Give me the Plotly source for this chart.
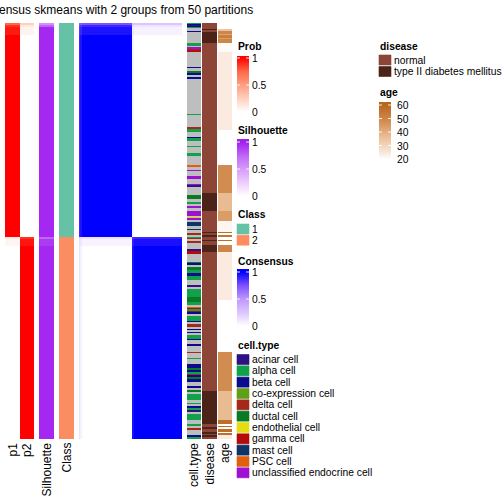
import numpy as np
import plotly.graph_objects as go

TITLE = "Consensus skmeans with 2 groups from 50 partitions"

# ---------------- data ----------------
class_labels = ["1", "2"]
class_colors = ["#66C2A5", "#FC8D62"]
class_sizes = [214, 202]

# probability of class 1 for samples (run-length: value, count)
p1_values = [0.75, 0.88, 0.94, 1.0, 0.12, 0.05, 0.0]
p1_lengths = [2, 2, 8, 202, 2, 7, 193]

sil_values = [0.55, 0.75, 0.97, 0.75, 0.9, 0.97]
sil_lengths = [2, 2, 210, 2, 7, 193]

celltype_keys = ["ac", "al", "be", "co", "de", "du", "en", "ga", "ma", "ps", "un"]
celltype_names = ["acinar cell", "alpha cell", "beta cell", "co-expression cell", "delta cell",
                  "ductal cell", "endothelial cell", "gamma cell", "mast cell", "PSC cell",
                  "unclassified endocrine cell"]
celltype_colors = ["#2E1182", "#10A14A", "#0B0B8E", "#5EA01A", "#A4281C", "#0A7A25",
                   "#E6DC16", "#B20C0C", "#0E3468", "#E0600F", "#A010D0"]
na_color = "#BEBEBE"

celltype_runs = [
    "al", "be", "ac", "be", "al", "na", "be", "na", "al", "na", "un", "de", "ga", "na", "be", "na",
    "du", "be", "na", "be", "na", "al", "na", "de", "al", "na", "be", "al", "na", "al", "na", "al",
    "na", "ps", "na", "un", "na", "un", "na", "un", "ac", "na", "du", "na", "al", "na", "un", "na",
    "un", "en", "na", "un", "na", "ma", "na", "ma", "na", "de", "na",
    "al", "de", "na", "de", "na", "ac", "ga", "na", "du", "be", "na", "du", "al", "be", "al", "na",
    "ac", "na", "al", "du", "al", "na", "ps", "ga", "al", "ga", "be", "na", "al", "be", "na", "de",
    "na", "be", "na", "be", "na", "al", "be", "na", "be", "na", "de", "na", "al", "na", "be", "du",
    "be", "al", "de", "be", "du", "be", "na", "be", "na", "du", "na", "al", "na", "al", "na", "be",
    "al", "ac", "na", "al", "na", "al", "na", "de", "na", "be", "al"]
celltype_lengths = [
    1, 1, 1, 1, 1, 3, 1, 11, 3, 1, 2, 1, 2, 15, 1, 3,
    2, 2, 2, 2, 35, 1, 12, 2, 3, 5, 1, 3, 5, 1, 6, 3,
    9, 2, 3, 1, 5, 3, 5, 1, 2, 8, 4, 3, 2, 2, 2, 3,
    5, 1, 1, 2, 2, 4, 3, 1, 3, 2, 2,
    1, 1, 2, 2, 6, 2, 3, 8, 1, 2, 2, 3, 3, 3, 4, 5,
    2, 2, 8, 5, 3, 2, 1, 1, 2, 1, 2, 2, 5, 1, 2, 3,
    2, 1, 2, 1, 2, 4, 1, 4, 2, 6, 1, 5, 1, 5, 4, 2,
    2, 2, 1, 2, 2, 3, 4, 2, 2, 2, 2, 6, 3, 1, 2, 2,
    2, 2, 2, 6, 4, 2, 2, 2, 5, 2, 2]

disease_names = ["normal", "type II diabetes mellitus"]
disease_colors = ["#8C4536", "#4B2318"]
disease_runs = ["n", "t", "n", "t", "n", "t", "n", "t", "n", "t",
                "n", "t", "n", "t", "n", "t", "n", "t", "n", "t", "n", "t", "n"]
disease_lengths = [6, 1, 2, 11, 150, 18, 21, 1, 2, 2,
                   3, 1, 4, 7, 139, 33, 3, 2, 3, 2, 1, 2, 2]

age_runs = [None, 35, 50, 42, 52, 44, 50, 21, 24, None, 48, 37, 44, 22, 57, None, 55,
            None, 57, None, 50, 24, None, 48, 37, 57, None, 57, None, 57, None, 57, 24]
age_lengths = [6, 2, 3, 1, 3, 1, 4, 9, 78, 35, 28, 18, 10, 11, 1, 2, 2,
               3, 1, 4, 7, 48, 52, 39, 29, 4, 2, 1, 2, 3, 1, 2, 4]
age_ticks = [20, 30, 40, 50, 60]

# ---------------- colour scales ----------------
prob_scale = [[0, "#FFFFFF"], [0.25, "#FFCFBF"], [0.5, "#FF9E81"], [0.75, "#FF6846"], [1, "#FF0000"]]
sil_scale = [[0, "#FFFFFF"], [0.25, "#EDCDFD"], [0.5, "#D79BFA"], [0.75, "#BE66F5"], [1, "#A020F0"]]
cons_scale = [[0, "#FFFFFF"], [0.25, "#DCC5FF"], [0.5, "#BE96FF"], [0.75, "#7E51FF"], [1, "#0000FF"]]
age_scale = [[0, "#FFFFFF"], [0.1, "#FAEADF"], [0.425, "#E9BB93"], [0.6, "#DB9D66"],
             [0.7, "#D18C52"], [1, "#B8661C"]]


def expand(values, lengths):
    out = []
    for v, n in zip(values, lengths):
        out += [v] * n
    return out


def discrete_scale(colors):
    k = len(colors)
    cs = []
    for i, c in enumerate(colors):
        cs += [[i / k, c], [(i + 1) / k, c]]
    return cs


p1 = np.array(expand(p1_values, p1_lengths), dtype=float)
p2 = 1 - p1
sil = expand(sil_values, sil_lengths)
cls = expand([0, 1], class_sizes)
consensus = np.outer(p1, p1) + np.outer(p2, p2)
ct_codes = [celltype_keys.index(k) if k != "na" else len(celltype_keys)
            for k in expand(celltype_runs, celltype_lengths)]
dis_codes = [0 if k == "n" else 1 for k in expand(disease_runs, disease_lengths)]
ages = expand(age_runs, age_lengths)
N = len(p1)

# ---------------- layout constants ----------------
W = H = 504
TOP = 23
FONT = "Liberation Sans, Arial, Helvetica, sans-serif"
COL = {"p1": (5, 20), "p2": (20, 34), "Silhouette": (39, 54), "Class": (59, 74),
       "cons": (79, 182), "cell.type": (187, 201), "disease": (202, 217), "age": (218, 232)}

fig = go.Figure()


def add_column(z, key, colorscale, zmin, zmax):
    x0, x1 = COL[key]
    fig.add_trace(go.Heatmap(
        z=[[v] for v in z], x0=(x0 + x1) / 2, dx=x1 - x0, y0=TOP + 0.5, dy=1,
        colorscale=colorscale, zmin=zmin, zmax=zmax, showscale=False, hoverinfo="skip"))


add_column(list(p1), "p1", prob_scale, 0, 1)
add_column(list(p2), "p2", prob_scale, 0, 1)
add_column(sil, "Silhouette", sil_scale, 0, 1)
add_column(cls, "Class", discrete_scale(class_colors), -0.5, 1.5)
add_column(ct_codes, "cell.type", discrete_scale(celltype_colors + [na_color]),
           -0.5, len(celltype_colors) + 0.5)
add_column(dis_codes, "disease", discrete_scale(disease_colors), -0.5, 1.5)
add_column(ages, "age", age_scale, 20, 60)

cx0, cx1 = COL["cons"]
fig.add_trace(go.Heatmap(
    z=consensus, x0=cx0 + (cx1 - cx0) / N / 2, dx=(cx1 - cx0) / N, y0=TOP + 0.5, dy=1,
    colorscale=cons_scale, zmin=0, zmax=1, showscale=False, hoverinfo="skip"))

annotations = []


def text(x, y, s, size=10.3, xanchor="left", yanchor="middle", bold=False, angle=0):
    annotations.append(dict(
        x=x, y=y, xref="x", yref="y", text=("<b>%s</b>" % s) if bold else s, showarrow=False,
        xanchor=xanchor, yanchor=yanchor, textangle=angle, borderpad=0,
        font=dict(family=FONT, size=size, color="black")))


shapes = []


def gradient_legend(x0, x1, y_top, y_bot, y_max, vmin, vmax, scale, ticks, label_x, title, title_y):
    ys = np.arange(y_top, y_bot) + 0.5
    vals = np.clip(vmin + (y_bot - ys) / (y_bot - y_max) * (vmax - vmin), vmin, vmax)
    fig.add_trace(go.Heatmap(
        z=[[v] for v in vals], x0=(x0 + x1) / 2, dx=x1 - x0, y0=y_top + 0.5, dy=1,
        colorscale=scale, zmin=vmin, zmax=vmax, showscale=False, hoverinfo="skip"))
    for t in ticks:
        ty = y_bot - (t - vmin) / (vmax - vmin) * (y_bot - y_max)
        if ty < y_bot - 1:
            for a, b in ((x0, x0 + 3), (x1 - 3, x1)):
                shapes.append(dict(type="line", xref="x", yref="y", x0=a, x1=b, y0=ty, y1=ty,
                                   line=dict(color="rgba(255,255,255,0.9)", width=1)))
        lab = ("%g" % t)
        text(label_x, ty + 0.5, lab)
    text(x0, title_y, title, bold=True)


def box_legend(x0, x1, y_first, step, names, colors, label_x, title, title_y):
    for i, (nm, c) in enumerate(zip(names, colors)):
        yc = y_first + i * step
        shapes.append(dict(type="rect", xref="x", yref="y", x0=x0, x1=x1, y0=yc - 5, y1=yc + 5,
                           fillcolor=c, line=dict(width=0.6, color=c)))
        text(label_x, yc, nm)
    text(x0, title_y, title, bold=True)


LX0, LX1 = 237, 249
gradient_legend(LX0, LX1, 56, 112, 58, 0, 1, prob_scale, [0, 0.5, 1], 251, "Prob", 46)
gradient_legend(LX0, LX1, 139, 196, 142, 0, 1, sil_scale, [0, 0.5, 1], 251, "Silhouette", 130)
box_legend(LX0, LX1, 229, 11.2, class_labels, class_colors, 251, "Class", 214)
gradient_legend(LX0, LX1, 269, 326, 272, 0, 1, cons_scale, [0, 0.5, 1], 251, "Consensus", 261)
box_legend(LX0, LX1, 359.5, 11.33, celltype_names, celltype_colors, 251, "cell.type", 345)

RX0, RX1 = 379, 391
box_legend(RX0, RX1, 60, 11.5, disease_names, disease_colors, 393, "disease", 46)
gradient_legend(RX0, RX1, 102, 159, 105, 20, 60, age_scale, age_ticks, 396, "age", 92)

# column names under the heatmap
for key in ["p1", "p2", "Silhouette", "Class", "cell.type", "disease", "age"]:
    a, b = COL[key]
    text((a + b) / 2, 442, key, size=12, xanchor="center", yanchor="top", angle=-90)

text(112, 9.5, TITLE, size=12, xanchor="center")

fig.update_layout(
    width=W, height=H, margin=dict(l=0, r=0, t=0, b=0),
    paper_bgcolor="white", plot_bgcolor="white",
    xaxis=dict(range=[0, W], visible=False, fixedrange=True, domain=[0, 1]),
    yaxis=dict(range=[H, 0], visible=False, fixedrange=True, domain=[0, 1]),
    annotations=annotations, shapes=shapes, showlegend=False)

fig.write_html("out.html", config={"displayModeBar": False, "staticPlot": True},
               post_script="document.body.style.margin='0';")
